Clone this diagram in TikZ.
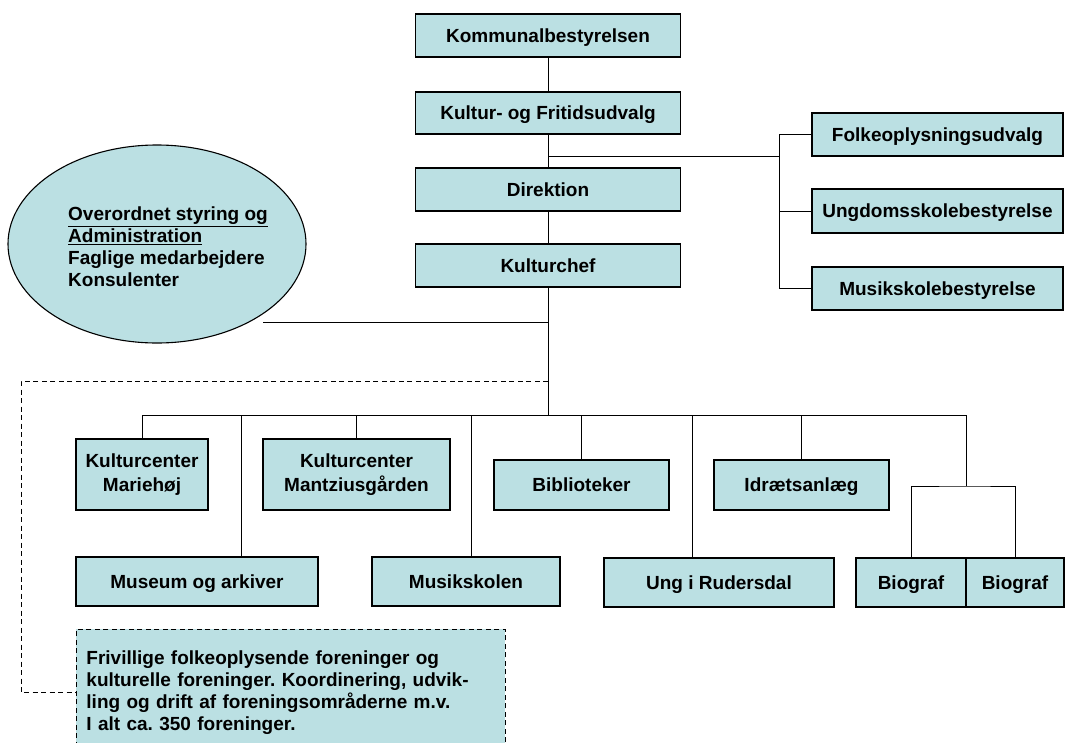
\documentclass[tikz,border=0pt]{standalone}
\usepackage{fontspec}
\setmainfont{Liberation Sans}
\usetikzlibrary{shapes.geometric,calc}
\definecolor{boxfill}{RGB}{187,224,227}
\frenchspacing
\begin{document}
\begin{tikzpicture}[x=1pt,y=-1pt,
  txt/.style={font=\bfseries\fontsize{19}{22}\selectfont},
  basebox/.style={txt,draw=black,fill=boxfill,line width=1.1pt,inner sep=0pt,align=center},
  box/.style={basebox,text height=14pt,text depth=1pt},
  twobox/.style={basebox,font=\bfseries\fontsize{19}{24}\selectfont},
  conn/.style={draw=black,line width=0.9pt},
  dline/.style={draw=black,line width=0.9pt,dash pattern=on 5pt off 3.5pt}
]
\clip (0,0) rectangle (1066,742);
% top column
\node[box,minimum width=265pt,minimum height=43pt] (komm) at (548,35.5) {Kommunalbestyrelsen};
\node[box,minimum width=265pt,minimum height=42pt] (kfu) at (548,113) {Kultur- og Fritidsudvalg};
\node[box,minimum width=265pt,minimum height=43pt] (dir) at (548,189.5) {Direktion};
\node[box,minimum width=265pt,minimum height=43pt] (kc) at (548,265.5) {Kulturchef};
% right column
\node[box,minimum width=251pt,minimum height=43pt] (folk) at (937.5,134.5) {Folkeoplysningsudvalg};
\node[box,minimum width=251pt,minimum height=44pt] (ungd) at (937.5,211) {Ungdomsskolebestyrelse};
\node[box,minimum width=251pt,minimum height=43pt] (musk) at (937.5,288.5) {Musikskolebestyrelse};
% ellipse
\node[draw=black,fill=boxfill,line width=1.1pt,ellipse,minimum width=298pt,minimum height=198pt] (ell) at (157,244) {};
\node[txt,anchor=west,align=left,inner sep=0pt] (elltext) at (68,247)
  {\underline{Overordnet styring og}\\\underline{Administration}\\Faglige medarbejdere\\Konsulenter};
% middle row
\node[twobox,minimum width=132pt,minimum height=71pt] (mar) at (142,474.5) {Kulturcenter\\Mariehøj};
\node[twobox,minimum width=187pt,minimum height=71pt] (man) at (356.5,474.5) {Kulturcenter\\Mantziusgården};
\node[box,minimum width=175pt,minimum height=50pt] (bib) at (581.5,485) {Biblioteker};
\node[box,minimum width=175pt,minimum height=50pt] (idr) at (801.5,485) {Idrætsanlæg};
% bottom row
\node[box,minimum width=242pt,minimum height=49pt] (mus) at (197,581.5) {Museum og arkiver};
\node[box,minimum width=188pt,minimum height=49pt] (msk) at (466,581.5) {Musikskolen};
\node[box,minimum width=230pt,minimum height=49pt] (ung) at (719,582.5) {Ung i Rudersdal};
\node[box,minimum width=110pt,minimum height=49pt] (bio1) at (911,582.5) {Biograf};
\node[box,minimum width=98pt,minimum height=49pt] (bio2) at (1015,582.5) {Biograf};
% dashed box
\node[txt,draw=black,fill=boxfill,line width=0.9pt,dash pattern=on 5pt off 3.5pt,anchor=north west,
  minimum width=429pt,minimum height=126pt,text width=409pt,inner xsep=10pt,inner ysep=0pt,align=left] (frv) at (76,629)
  {Frivillige folkeoplysende foreninger og\\kulturelle foreninger. Koordinering, udvik-\\ling og drift af foreningsområderne m.v.\\I alt ca. 350 foreninger.};
% connectors: top column
\draw[conn] (komm) -- (kfu);
\draw[conn] (kfu) -- (dir);
\draw[conn] (dir) -- (kc);
\coordinate (jr) at (548,156);
\coordinate (rb) at (779,156);
\draw[conn] (jr) -- (rb);
\draw[conn] (folk.west) -- (folk.west -| rb) |- (musk.west);
\draw[conn] (ungd.west) -- (ungd.west -| rb);
% ellipse connector
\coordinate (el) at (263,322);
\draw[conn] (el) -- (el -| kc.south);
% bus
\coordinate (busL) at (142,415);
\coordinate (busR) at (966,415);
\draw[conn] (kc.south) -- (kc.south |- busL);
\draw[conn] (busL) -- (busR);
\draw[conn] (mar.north) -- (mar.north |- busL);
\draw[conn] (man.north) -- (man.north |- busL);
\draw[conn] (bib.north) -- (bib.north |- busL);
\draw[conn] (idr.north) -- (idr.north |- busL);
\coordinate (bMus) at (241,415);
\draw[conn] (bMus) -- (bMus |- mus.north);
\coordinate (bMsk) at (471,415);
\draw[conn] (bMsk) -- (bMsk |- msk.north);
\coordinate (bUng) at (692,415);
\draw[conn] (bUng) -- (bUng |- ung.north);
\coordinate (bioJ) at (966,486);
\draw[conn] (busR) -- (bioJ);
\draw[conn] (bio1.north) |- (bioJ) -| (bio2.north);
% dashed connector
\coordinate (d1) at (548,381);
\coordinate (d2) at (21,381);
\draw[dline] (d1) -- (d2) |- (frv.west);
\end{tikzpicture}
\end{document}
